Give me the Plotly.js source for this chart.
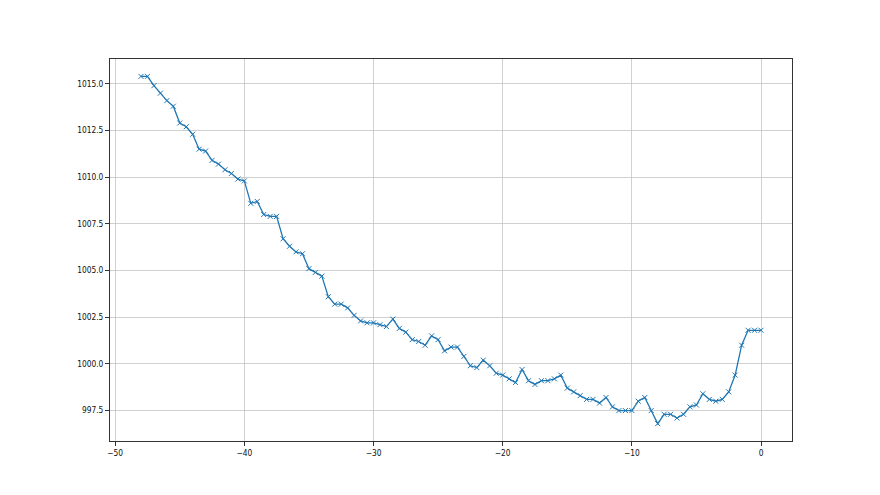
<!DOCTYPE html>
<html>
<head>
<meta charset="utf-8">
<script src="https://cdn.plot.ly/plotly-3.0.1.min.js"></script>
<style>html,body{margin:0;padding:0;background:#fff;}#chart{width:880px;height:495px;}</style>
</head>
<body>
<div id="chart"></div>
<script>
const hours = [];
for (let i = 0; i <= 96; i++) hours.push(-48 + i * 0.5);
const pressure = [
  1015.4, 1015.4, 1014.9, 1014.5, 1014.1, 1013.8, 1012.9, 1012.7, 1012.3, 1011.5,
  1011.4, 1010.9, 1010.7, 1010.4, 1010.2, 1009.9, 1009.8, 1008.6, 1008.7, 1008.0,
  1007.9, 1007.9, 1006.7, 1006.3, 1006.0, 1005.9, 1005.1, 1004.9, 1004.7, 1003.6,
  1003.2, 1003.2, 1003.0, 1002.6, 1002.3, 1002.2, 1002.2, 1002.1, 1002.0, 1002.4,
  1001.9, 1001.7, 1001.3, 1001.2, 1001.0, 1001.5, 1001.3, 1000.7, 1000.9, 1000.9,
  1000.4, 999.9, 999.8, 1000.2, 999.9, 999.5, 999.4, 999.2, 999.0, 999.7,
  999.1, 998.9, 999.1, 999.1, 999.2, 999.4, 998.7, 998.5, 998.3, 998.1,
  998.1, 997.9, 998.2, 997.7, 997.5, 997.5, 997.5, 998.0, 998.2, 997.5,
  996.8, 997.3, 997.3, 997.1, 997.3, 997.7, 997.8, 998.4, 998.1, 998.0,
  998.1, 998.5, 999.4, 1001.0, 1001.8, 1001.8, 1001.8
];
const trace = {
  x: hours, y: pressure, type: 'scatter', mode: 'lines+markers',
  line: {color: '#1f77b4', width: 1.3},
  marker: {symbol: 'x-thin-open', size: 5, color: '#1f77b4', line: {color: '#1f77b4', width: 1}},
  hoverinfo: 'skip'
};
const font = {family: 'DejaVu Sans Condensed, DejaVu Sans, sans-serif', size: 8.3, color: '#111'};
const axisCommon = {
  showline: true, mirror: true, linecolor: '#333', linewidth: 1,
  ticks: 'outside', ticklen: 4, tickwidth: 1, tickcolor: '#333',
  showgrid: true, gridcolor: '#c4c4c4', gridwidth: 0.8, zeroline: false,
  tickfont: font
};
const layout = {
  width: 880, height: 495,
  margin: {l: 110, r: 88, t: 59, b: 54},
  paper_bgcolor: '#fff', plot_bgcolor: '#fff',
  showlegend: false,
  xaxis: Object.assign({}, axisCommon, {range: [-50.4, 2.4], tick0: -50, dtick: 10}),
  yaxis: Object.assign({}, axisCommon, {range: [995.87, 1016.33], tick0: 997.5, dtick: 2.5, tickformat: '.1f'})
};
Plotly.newPlot('chart', [trace], layout, {displayModeBar: false, staticPlot: true});
</script>
</body>
</html>
